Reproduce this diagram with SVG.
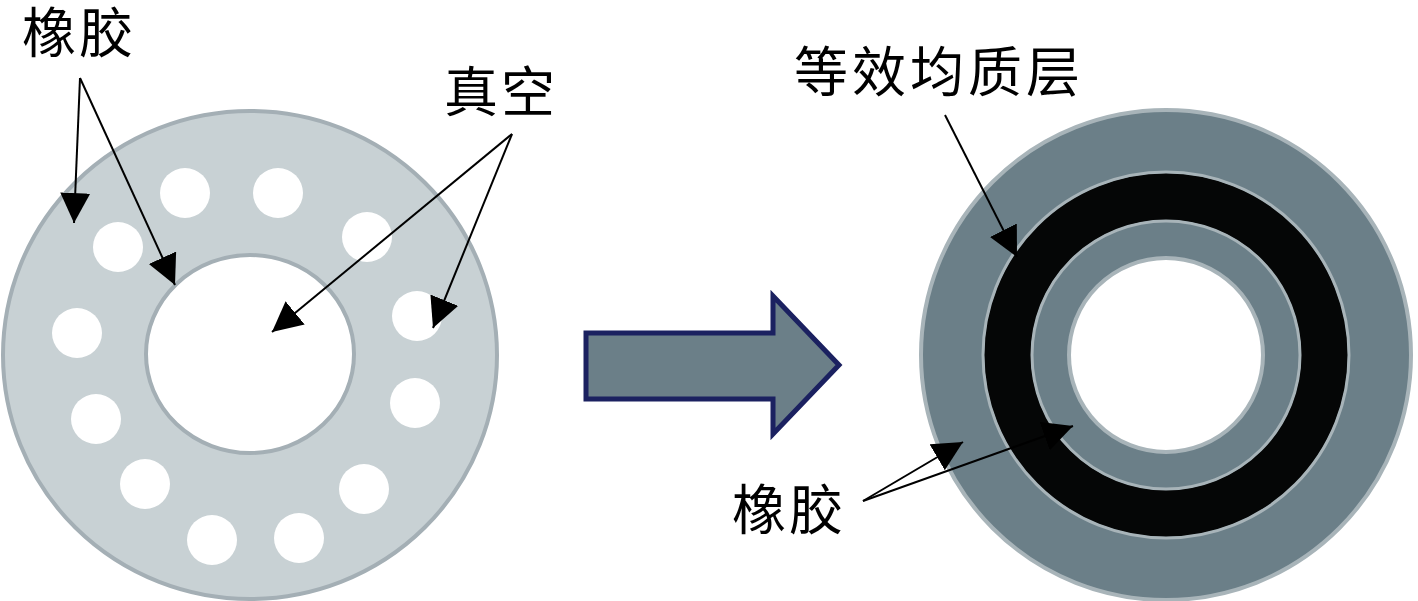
<svg xmlns="http://www.w3.org/2000/svg" width="1418" height="601" viewBox="0 0 1418 601">
<style>
.lbl{font-family:"Noto Sans CJK SC","Noto Sans",sans-serif;font-size:54px;fill:#000}
.ptr{stroke:#000;stroke-width:2;fill:none;marker-end:url(#ah)}
.hole{fill:#fff}
</style>
<defs>
<marker id="ah" markerUnits="userSpaceOnUse" markerWidth="32" markerHeight="32" refX="30" refY="15" orient="auto">
<path d="M0,0 L30,15 L0,30 z" fill="#000"/>
</marker>
</defs>
<rect width="1418" height="601" fill="#fff"/>
<g id="left-disc">
<ellipse cx="250" cy="355" rx="247" ry="244" fill="#c8d1d4" stroke="#a4afb5" stroke-width="4"/>
<ellipse cx="250" cy="354" rx="104" ry="99" fill="#fff" stroke="#a4afb5" stroke-width="4"/>
<circle class="hole" cx="185" cy="193" r="25"/>
<circle class="hole" cx="278" cy="193" r="25"/>
<circle class="hole" cx="118" cy="247" r="25"/>
<circle class="hole" cx="367" cy="237" r="25"/>
<circle class="hole" cx="77" cy="333" r="25"/>
<circle class="hole" cx="417" cy="316" r="25"/>
<circle class="hole" cx="96" cy="419" r="25"/>
<circle class="hole" cx="415" cy="403" r="25"/>
<circle class="hole" cx="145" cy="484" r="25"/>
<circle class="hole" cx="364" cy="489" r="25"/>
<circle class="hole" cx="212" cy="540" r="25"/>
<circle class="hole" cx="299" cy="538" r="25"/>
</g>
<g id="big-arrow">
<path d="M586,333 L773,333 L773,296 L839,365 L773,434 L773,399 L586,399 Z" fill="#6b7f88" stroke="#1b2160" stroke-width="5" stroke-linejoin="miter"/>
</g>
<g id="right-disc">
<circle cx="1166" cy="355" r="245" fill="#6b7f88" stroke="#a8b4b9" stroke-width="4"/>
<circle cx="1166" cy="355" r="158.5" fill="none" stroke="#050606" stroke-width="47"/>
<circle cx="1166" cy="355" r="183" fill="none" stroke="#a8b4b9" stroke-width="3"/>
<circle cx="1166" cy="355" r="134" fill="none" stroke="#a8b4b9" stroke-width="3"/>
<circle cx="1166" cy="355" r="97" fill="#fff" stroke="#a8b4b9" stroke-width="4"/>
</g>
<g id="labels">
<text class="lbl" x="22" y="53" letter-spacing="3">橡胶</text>
<text class="lbl" x="444" y="112" letter-spacing="3">真空</text>
<text class="lbl" x="794" y="92" letter-spacing="4">等效均质层</text>
<text class="lbl" x="732" y="530" letter-spacing="3">橡胶</text>
</g>
<g id="connectors">
<line class="ptr" x1="80" y1="78" x2="74" y2="223"/>
<line class="ptr" x1="80" y1="78" x2="175" y2="285"/>
<line class="ptr" x1="512" y1="134" x2="272" y2="332"/>
<line class="ptr" x1="512" y1="134" x2="433" y2="328"/>
<line class="ptr" x1="945" y1="115" x2="1017" y2="257"/>
<line class="ptr" x1="863" y1="501" x2="963" y2="442"/>
<line class="ptr" x1="863" y1="501" x2="1073" y2="426"/>
</g>
</svg>
